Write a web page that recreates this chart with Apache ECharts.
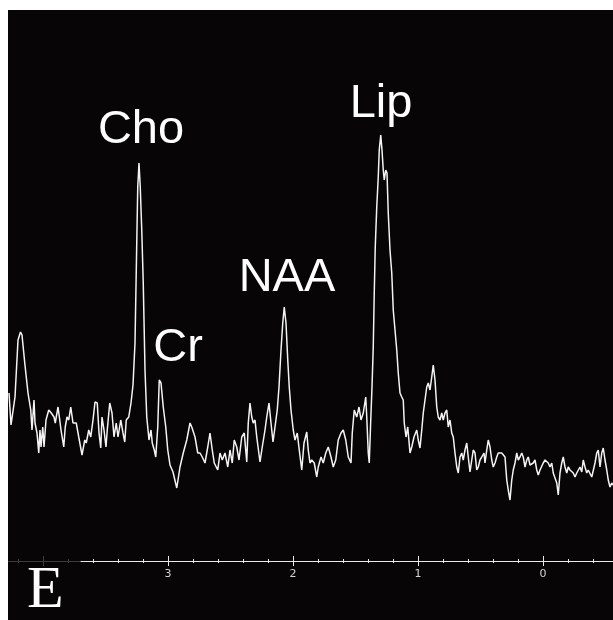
<!DOCTYPE html>
<html>
<head>
<meta charset="utf-8">
<script src="https://cdn.jsdelivr.net/npm/echarts@6/dist/echarts.min.js"></script>
<style>
  html, body { margin: 0; padding: 0; background: #ffffff; width: 613px; height: 620px; overflow: hidden; }
  #chart { position: absolute; left: 8px; top: 10px; width: 605px; height: 610px; }
</style>
</head>
<body>
<div id="chart"></div>
<script>
// Chemical shift (ppm) of each sample of the spectrum
const ppm = [
  4.272, 4.256, 4.224, 4.200, 4.180, 4.168, 4.146, 4.120, 4.098, 4.088,
  4.072, 4.064, 4.048, 4.034, 4.024, 4.016, 4.002, 3.992, 3.976, 3.954,
  3.934, 3.912, 3.902, 3.880, 3.866, 3.856, 3.834, 3.822, 3.808, 3.794,
  3.778, 3.760, 3.734, 3.714, 3.688, 3.666, 3.654, 3.634, 3.618, 3.600,
  3.584, 3.566, 3.552, 3.538, 3.528, 3.512, 3.496, 3.486, 3.466, 3.448,
  3.432, 3.414, 3.400, 3.378, 3.360, 3.346, 3.334, 3.314, 3.296, 3.280,
  3.264, 3.250, 3.242, 3.232, 3.222, 3.210, 3.198, 3.184, 3.170, 3.152,
  3.136, 3.126, 3.110, 3.098, 3.082, 3.070, 3.056, 3.038, 3.018, 3.002,
  2.984, 2.960, 2.930, 2.904, 2.878, 2.850, 2.824, 2.810, 2.784, 2.762,
  2.744, 2.726, 2.704, 2.682, 2.664, 2.646, 2.630, 2.602, 2.584, 2.566,
  2.544, 2.522, 2.504, 2.486, 2.470, 2.450, 2.432, 2.410, 2.390, 2.370,
  2.358, 2.344, 2.330, 2.318, 2.304, 2.290, 2.264, 2.246, 2.224, 2.210,
  2.192, 2.176, 2.160, 2.144, 2.126, 2.112, 2.096, 2.082, 2.070, 2.056,
  2.042, 2.030, 2.016, 1.998, 1.984, 1.966, 1.950, 1.930, 1.912, 1.890,
  1.878, 1.864, 1.850, 1.830, 1.810, 1.798, 1.776, 1.758, 1.738, 1.718,
  1.696, 1.678, 1.658, 1.638, 1.616, 1.598, 1.578, 1.558, 1.536, 1.526,
  1.510, 1.490, 1.472, 1.456, 1.438, 1.418, 1.410, 1.398, 1.390, 1.378,
  1.368, 1.358, 1.350, 1.342, 1.330, 1.318, 1.310, 1.298, 1.288, 1.278,
  1.270, 1.258, 1.248, 1.238, 1.224, 1.210, 1.198, 1.184, 1.170, 1.158,
  1.144, 1.130, 1.118, 1.110, 1.096, 1.082, 1.064, 1.050, 1.032, 1.010,
  0.998, 0.984, 0.970, 0.958, 0.944, 0.930, 0.918, 0.904, 0.890, 0.878,
  0.864, 0.850, 0.838, 0.824, 0.810, 0.798, 0.784, 0.770, 0.758, 0.744,
  0.730, 0.718, 0.704, 0.690, 0.678, 0.664, 0.650, 0.638, 0.624, 0.610,
  0.598, 0.584, 0.570, 0.558, 0.544, 0.530, 0.518, 0.504, 0.490, 0.472,
  0.464, 0.450, 0.438, 0.424, 0.410, 0.398, 0.384, 0.370, 0.358, 0.344,
  0.330, 0.318, 0.304, 0.290, 0.278, 0.264, 0.250, 0.238, 0.224, 0.210,
  0.198, 0.184, 0.170, 0.158, 0.144, 0.130, 0.118, 0.104, 0.090, 0.078,
  0.064, 0.050, 0.038, 0.024, 0.010, -0.002, -0.016, -0.030, -0.042, -0.056,
  -0.070, -0.082, -0.096, -0.110, -0.122, -0.136, -0.150, -0.162, -0.176, -0.190,
  -0.202, -0.216, -0.230, -0.242, -0.256, -0.270, -0.282, -0.296, -0.310, -0.322,
  -0.336, -0.350, -0.362, -0.376, -0.390, -0.402, -0.416, -0.430, -0.442, -0.456,
  -0.470, -0.482, -0.496, -0.510, -0.522, -0.536, -0.550, -0.560
];

// Signal intensity (arbitrary units) at each ppm sample
const intensity = [
  168, 136, 164, 221, 229, 226, 198, 168, 151, 131,
  161, 138, 128, 108, 131, 114, 134, 114, 141, 151,
  148, 144, 138, 154, 141, 131, 114, 134, 144, 141,
  154, 138, 138, 124, 106, 121, 118, 131, 124, 141,
  159, 158, 128, 113, 144, 131, 114, 131, 158, 148,
  124, 138, 124, 141, 128, 119, 141, 144, 158, 176,
  218, 318, 374, 398, 374, 331, 278, 191, 144, 121,
  131, 118, 111, 104, 134, 181, 178, 154, 134, 111,
  96, 89, 73, 94, 108, 121, 138, 134, 124, 108,
  108, 104, 98, 114, 128, 111, 98, 91, 108, 101,
  108, 94, 111, 98, 121, 114, 101, 124, 128, 99,
  138, 158, 144, 138, 141, 124, 99, 114, 131, 144,
  158, 138, 119, 134, 151, 174, 211, 238, 254, 238,
  201, 174, 151, 131, 121, 128, 111, 91, 118, 129,
  111, 98, 101, 98, 84, 94, 104, 98, 108, 114,
  104, 94, 101, 121, 128, 131, 121, 104, 98, 128,
  151, 144, 154, 141, 148, 164, 144, 108, 98, 141,
  174, 214, 268, 314, 354, 384, 411, 426, 411, 391,
  381, 391, 388, 348, 311, 288, 251, 231, 211, 188,
  168, 164, 161, 138, 124, 134, 108, 114, 124, 131,
  121, 113, 131, 148, 161, 174, 178, 171, 184, 196,
  181, 154, 144, 141, 148, 141, 148, 151, 134, 141,
  128, 124, 108, 94, 88, 104, 108, 101, 111, 118,
  104, 89, 101, 111, 108, 91, 94, 101, 104, 108,
  98, 111, 121, 114, 101, 94, 98, 104, 108, 109,
  108, 108, 104, 81, 71, 61, 81, 91, 98, 108,
  101, 104, 108, 104, 94, 101, 104, 96, 98, 98,
  101, 91, 86, 91, 89, 98, 101, 99, 98, 94,
  98, 88, 88, 78, 66, 88, 98, 104, 94, 88,
  94, 91, 93, 88, 84, 88, 88, 94, 89, 101,
  94, 88, 91, 93, 84, 83, 98, 108, 111, 94,
  108, 113, 101, 91, 81, 74, 78, 76
];

// Axis ticks (ppm) and tick labels
const majorTicks = [4, 3, 2, 1, 0];
const minorTicks = [4.2, 3.8, 3.6, 3.4, 3.2, 2.8, 2.6, 2.4, 2.2, 1.8, 1.6, 1.4, 1.2,
                    0.8, 0.6, 0.4, 0.2, -0.2, -0.4];
const tickLabels = [3, 2, 1, 0];

// Peak annotations and panel letter
const peakNames = ['Cho', 'Cr', 'NAA', 'Lip'];
const panelLetter = 'E';

// ---- layout / style (not data) ----
const X_MIN = -0.56, X_MAX = 4.28;      // full plotted ppm range (inverted axis)
const BRIGHT_MAX = 3.696;               // where the bright scale line begins
const Y_MAX = 551;
const dim = '#3c3c3c';
const bright = '#e8e8e8';

const inBright = v => v <= BRIGHT_MAX && v >= X_MIN;

function axisSet(gridIndex, max, color, labels) {
  const base = { gridIndex, type: 'value', min: X_MIN, max, inverse: true, position: 'bottom',
                 splitLine: { show: false }, silent: true };
  const majors = gridIndex === 1 ? majorTicks.filter(inBright) : majorTicks;
  const minors = gridIndex === 1 ? minorTicks.filter(inBright) : minorTicks;
  return [
    Object.assign({}, base, {
      axisLine: { show: true, onZero: false, lineStyle: { color, width: 1 } },
      axisTick: { show: false },
      axisLabel: labels ? {
        show: true, customValues: tickLabels, margin: 8,
        color: '#d4d4d4', fontFamily: 'DejaVu Sans', fontSize: 11,
        formatter: v => String(Math.round(v))
      } : { show: false }
    }),
    Object.assign({}, base, {
      offset: 5,
      axisLine: { show: false, onZero: false },
      axisTick: { show: true, inside: true, length: 10, customValues: majors, lineStyle: { color, width: 1 } },
      axisLabel: { show: false }
    }),
    Object.assign({}, base, {
      offset: 2,
      axisLine: { show: false, onZero: false },
      axisTick: { show: true, inside: true, length: 4, customValues: minors, lineStyle: { color, width: 1 } },
      axisLabel: { show: false }
    })
  ];
}

const chart = echarts.init(document.getElementById('chart'), null, { renderer: 'canvas' });

const labelFont = '47px "Liberation Sans", Arial, sans-serif';
const peakLabelPos = [[133, 120], [170, 338], [279, 268], [373, 94]];

const graphics = peakNames.map((name, i) => ({
  type: 'text', x: peakLabelPos[i][0], y: peakLabelPos[i][1], silent: true,
  style: { text: name, fill: '#ffffff', font: labelFont, textAlign: 'center', textVerticalAlign: 'middle' }
}));
graphics.push({
  type: 'text', x: 19, y: 581, silent: true,
  style: { text: panelLetter, fill: '#ffffff', font: '60px "Liberation Serif", "Times New Roman", serif',
           textAlign: 'left', textVerticalAlign: 'middle' }
});

chart.setOption({
  animation: false,
  backgroundColor: '#070505',
  grid: [
    { left: 0, right: 0, top: 0, bottom: 59 },
    { left: 73, right: 0, top: 0, bottom: 59 }
  ],
  xAxis: [].concat(axisSet(0, X_MAX, dim, false), axisSet(1, BRIGHT_MAX, bright, true)),
  yAxis: [
    { gridIndex: 0, type: 'value', min: 0, max: Y_MAX, show: false },
    { gridIndex: 1, type: 'value', min: 0, max: 1, show: false }
  ],
  series: [{
    type: 'line',
    xAxisIndex: 0,
    yAxisIndex: 0,
    data: ppm.map((p, i) => [p, intensity[i]]),
    showSymbol: false,
    symbol: 'none',
    silent: true,
    lineStyle: { color: '#f4f4f4', width: 1.5 }
  }],
  graphic: graphics
});
</script>
</body>
</html>
